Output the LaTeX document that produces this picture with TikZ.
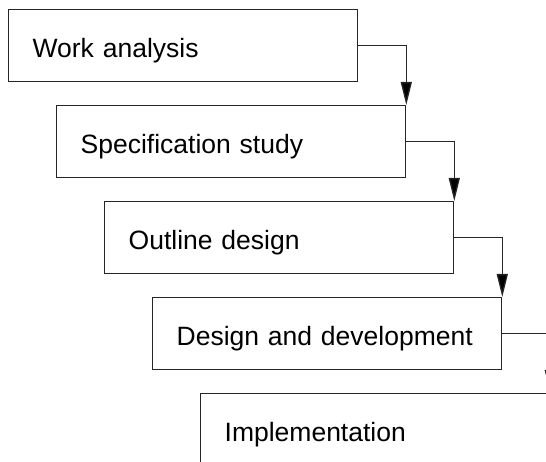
\documentclass[tikz,border=0pt]{standalone}
\usepackage{fontspec}
\setmainfont{Liberation Sans}
\usetikzlibrary{arrows.meta}
\tikzset{
	phase/.style={draw=black!85, line width=1.3pt, anchor=north west, minimum height=72pt, text width=301pt, text height=23.5pt, text depth=0pt, inner xsep=24pt, inner ysep=0pt, align=left, font=\fontsize{26.5}{30}\selectfont},
	flow/.style={draw=black!85, line width=1.3pt, -{Triangle[length=23pt,width=11pt,fill=black]}}
}
\begin{document}
\begin{tikzpicture}[x=1pt,y=1pt]
			\clip (0,0) rectangle (546,462);
			\node[phase] (work) at (8,453) {Work analysis};
			\node[phase] (spec) at (56,357) {Specification study};
			\node[phase] (outline) at (104,261) {Outline design};
			\node[phase] (devel) at (152,165) {Design and development};
			\node[phase] (impl) at (200,69) {Implementation};
			\draw[flow] (work.east) -| (spec.north east);
			\draw[flow] (spec.east) -| (outline.north east);
			\draw[flow] (outline.east) -| (devel.north east);
			\draw[flow] (devel.east) -| (impl.north east);
		\end{tikzpicture}
\end{document}
